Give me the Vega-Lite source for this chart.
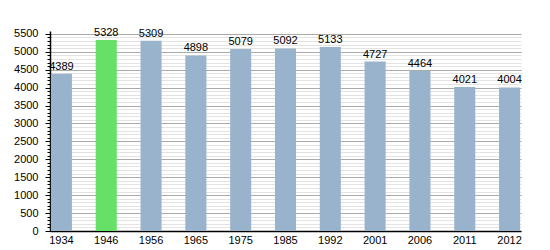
{
  "$schema": "https://vega.github.io/schema/vega-lite/v6.json",
  "autosize": "none",
  "width": 471,
  "height": 200,
  "padding": {"left": 50, "top": 31, "right": 29, "bottom": 19},
  "background": "white",
  "config": {
    "view": {"stroke": null},
    "font": "Liberation Sans",
    "axis": {"labelFont": "Liberation Sans", "labelFontSize": 11, "labelColor": "#000"}
  },
  "data": {
    "values": [
      {"year": "1934", "pop": 4389, "hl": "n"},
      {"year": "1946", "pop": 5328, "hl": "y"},
      {"year": "1956", "pop": 5309, "hl": "n"},
      {"year": "1965", "pop": 4898, "hl": "n"},
      {"year": "1975", "pop": 5079, "hl": "n"},
      {"year": "1985", "pop": 5092, "hl": "n"},
      {"year": "1992", "pop": 5133, "hl": "n"},
      {"year": "2001", "pop": 4727, "hl": "n"},
      {"year": "2006", "pop": 4464, "hl": "n"},
      {"year": "2011", "pop": 4021, "hl": "n"},
      {"year": "2012", "pop": 4004, "hl": "n"}
    ]
  },
  "encoding": {
    "x": {
      "field": "year", "type": "ordinal", "sort": null,
      "scale": {"paddingInner": 0.53, "paddingOuter": 0.02},
      "axis": {"title": null, "labelAngle": 0, "ticks": false, "domainColor": "#000", "domainWidth": 1.5, "labelPadding": 3}
    },
    "y": {"field": "pop", "type": "quantitative", "scale": {"domain": [0, 5580], "nice": false, "zero": true}}
  },
  "layer": [
    {
      "mark": {"type": "bar"},
      "encoding": {
        "y": {
          "field": "pop", "type": "quantitative",
          "axis": {
            "title": null, "orient": "left",
            "values": [0, 100, 200, 300, 400, 500, 600, 700, 800, 900, 1000, 1100, 1200, 1300, 1400, 1500, 1600, 1700, 1800, 1900, 2000, 2100, 2200, 2300, 2400, 2500, 2600, 2700, 2800, 2900, 3000, 3100, 3200, 3300, 3400, 3500, 3600, 3700, 3800, 3900, 4000, 4100, 4200, 4300, 4400, 4500, 4600, 4700, 4800, 4900, 5000, 5100, 5200, 5300, 5400, 5500],
            "labels": false, "domain": false, "grid": true, "gridColor": "#e3e3e3",
            "tickSize": 3, "tickColor": "#000", "title": null
          }
        },
        "color": {"field": "hl", "type": "nominal", "scale": {"domain": ["n", "y"], "range": ["#9ab3cc", "#66e066"]}, "legend": null}
      }
    },
    {
      "mark": {"type": "text", "baseline": "alphabetic", "dy": -4, "fontSize": 11, "color": "#000"},
      "encoding": {
        "text": {"field": "pop", "type": "quantitative", "format": "d"},
        "y": {
          "field": "pop", "type": "quantitative",
          "axis": {
            "title": null, "orient": "left", "format": "d",
            "values": [0, 500, 1000, 1500, 2000, 2500, 3000, 3500, 4000, 4500, 5000, 5500],
            "grid": true, "gridColor": "#aaaaaa", "domainColor": "#000", "domainWidth": 1.5,
            "tickColor": "#000", "tickSize": 5, "tickOffset": 0, "labelPadding": 7
          }
        }
      }
    }
  ],
  "resolve": {"axis": {"y": "independent"}}
}
